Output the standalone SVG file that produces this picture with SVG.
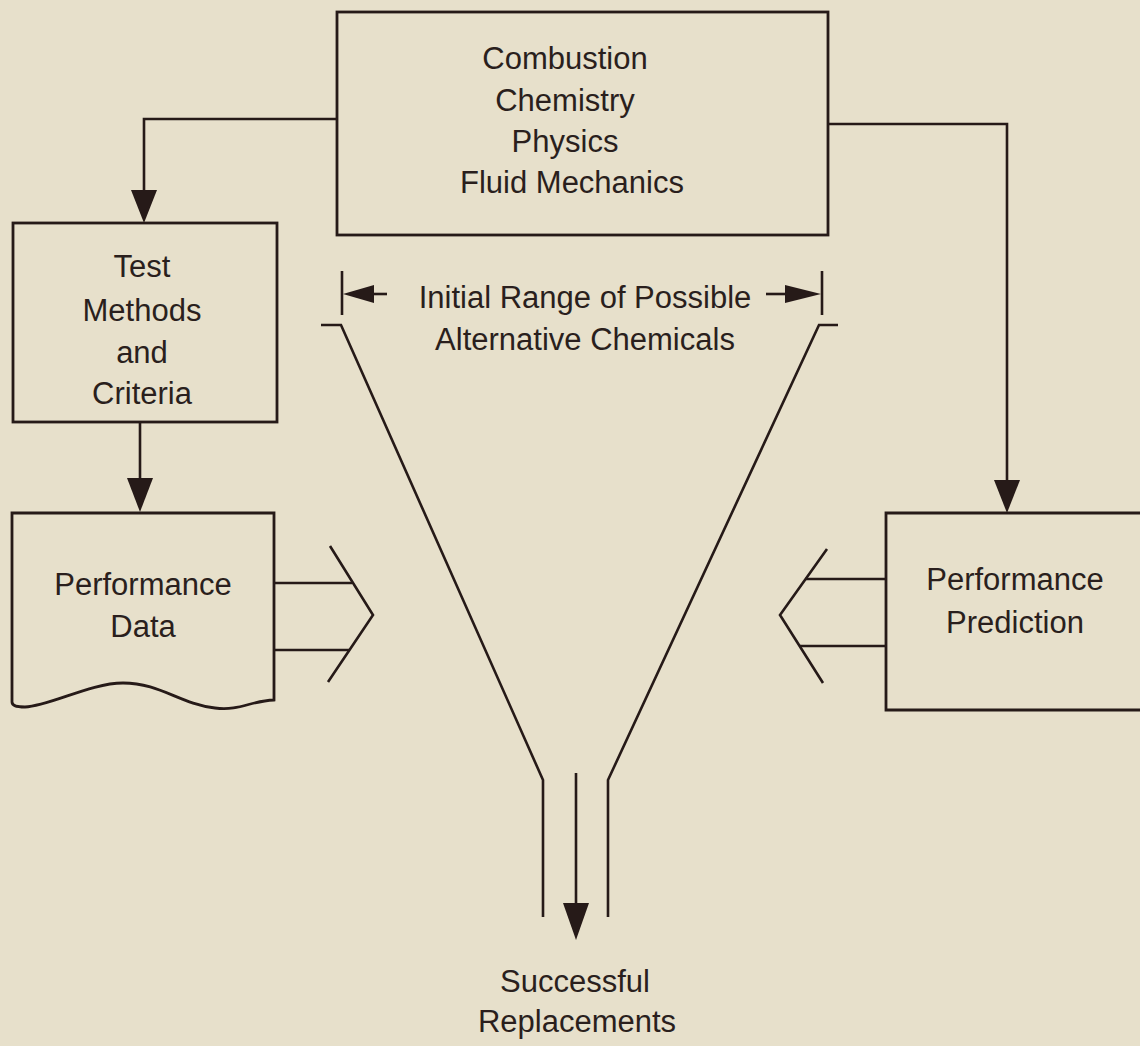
<svg xmlns="http://www.w3.org/2000/svg" width="1140" height="1046" viewBox="0 0 1140 1046">
  <style>
    .ln { fill: none; stroke: #261a18; stroke-width: 2.6; stroke-linejoin: miter; }
    .box { fill: none; stroke: #261a18; stroke-width: 2.8; }
    .hd { fill: #261a18; stroke: none; }
    text { font-family: "Liberation Sans", Arial, sans-serif; font-size: 31px; fill: #2a1f1d; text-anchor: middle; }
  </style>
  <rect x="0" y="0" width="1140" height="1046" fill="#e7e0cb"/>

  <g id="node-top">
    <rect class="box" x="337" y="12" width="491" height="223"/>
    <text x="565" y="69">Combustion</text>
    <text x="565" y="111">Chemistry</text>
    <text x="565" y="152">Physics</text>
    <text x="572" y="193">Fluid Mechanics</text>
  </g>

  <g id="node-test">
    <rect class="box" x="13" y="223" width="264" height="199"/>
    <text x="142" y="277">Test</text>
    <text x="142" y="321">Methods</text>
    <text x="142" y="363">and</text>
    <text x="142" y="404">Criteria</text>
  </g>

  <g id="node-data">
    <path class="box" d="M12,702 V513 H274 V700 C250,701 240,711 215,708 C180,704 160,683 123,683 C90,683 50,706 25,707 C15,707 12,705 12,702 Z"/>
    <text x="143" y="595">Performance</text>
    <text x="143" y="637">Data</text>
  </g>

  <g id="node-prediction">
    <path class="box" d="M1142,513 H886 V710 H1142"/>
    <text x="1015" y="590">Performance</text>
    <text x="1015" y="633">Prediction</text>
  </g>

  <g id="funnel">
    <polyline class="ln" points="321,325 341,325 543,780 543,917"/>
    <polyline class="ln" points="838,325 819,325 608,780 608,917"/>
    <line class="ln" x1="342" y1="271" x2="342" y2="315"/>
    <line class="ln" x1="822" y1="271" x2="822" y2="315"/>
    <polygon class="hd" points="343,294 374,285 374,303"/>
    <line class="ln" x1="372" y1="294" x2="387" y2="294"/>
    <line class="ln" x1="766" y1="294" x2="787" y2="294"/>
    <polygon class="hd" points="785,285 785,303 821,294"/>
    <text x="585" y="308">Initial Range of Possible</text>
    <text x="585" y="350">Alternative Chemicals</text>
  </g>

  <g id="node-result">
    <text x="575" y="992">Successful</text>
    <text x="577" y="1032">Replacements</text>
  </g>

  <g id="connectors">
    <polyline class="ln" points="337,119 144,119 144,192"/>
    <polygon class="hd" points="131,190 157,190 144,223"/>
    <polyline class="ln" points="828,124 1007,124 1007,482"/>
    <polygon class="hd" points="994,480 1020,480 1007,513"/>
    <line class="ln" x1="140" y1="422" x2="140" y2="480"/>
    <polygon class="hd" points="127,478 153,478 140,512"/>
    <line class="ln" x1="576" y1="773" x2="576" y2="905"/>
    <polygon class="hd" points="563,903 589,903 576,940"/>
    <line class="ln" x1="274" y1="583" x2="352" y2="583"/>
    <line class="ln" x1="274" y1="650" x2="350" y2="650"/>
    <polyline class="ln" points="330,546 373,615 328,682"/>
    <line class="ln" x1="886" y1="579" x2="805" y2="579"/>
    <line class="ln" x1="886" y1="646" x2="800" y2="646"/>
    <polyline class="ln" points="827,549 780,615 823,683"/>
  </g>
</svg>
